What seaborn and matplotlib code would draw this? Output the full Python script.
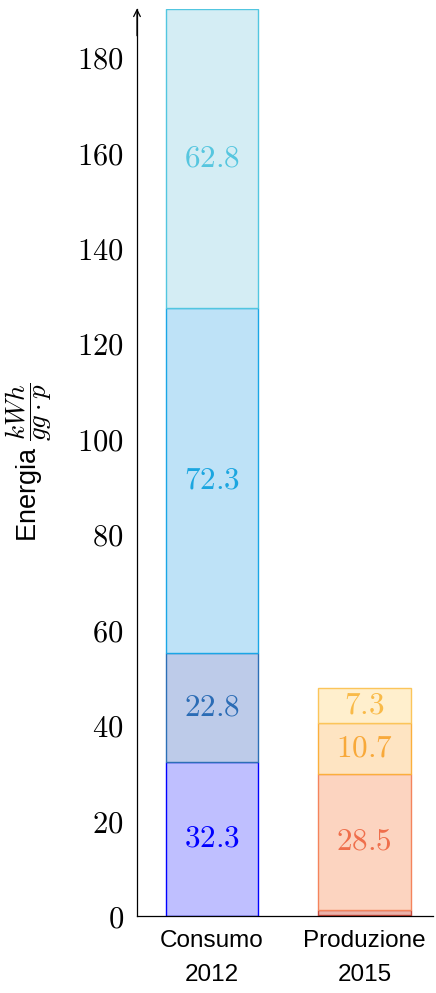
import matplotlib
matplotlib.use("Agg")
import matplotlib.pyplot as plt
import seaborn as sns
import numpy as np
import pandas as pd

# chart data
categories = ["Consumo\n2012", "Produzione\n2015"]
consumo_values = [32.3, 22.8, 72.3, 62.8]
produzione_values = [0.3, 1.0, 28.5, 10.7, 7.3]

consumo_fill = ["#bfbfff", "#bdcbe9", "#bee2f7", "#d4edf4"]
consumo_edge = ["#0000ff", "#2c6fb6", "#1aa6e6", "#52c6e0"]
consumo_text = ["#0000ff", "#2b6cb5", "#1ba6e0", "#56c6df"]

produzione_fill = ["#d9a3d9", "#eab3aa", "#fcd4c0", "#fee4c2", "#ffefcd"]
produzione_edge = ["#9b2f9b", "#c8483a", "#f4845c", "#fbaf3c", "#fbc55a"]
produzione_text = ["#9b2f9b", "#c8483a", "#ef6f4c", "#f8a93a", "#f9ba48"]

sns.set_theme(style="white")
plt.rcParams['font.family'] = ['Liberation Sans', 'DejaVu Sans']
plt.rcParams['mathtext.fontset'] = 'cm'
plt.rcParams['text.color'] = 'black'
plt.rcParams['axes.labelcolor'] = 'black'
plt.rcParams['xtick.color'] = 'black'
plt.rcParams['ytick.color'] = 'black'

fig = plt.figure(figsize=(4.36, 9.93), dpi=100)
ax = fig.add_axes([137 / 436, 1 - 916 / 993, 296 / 436, (916 - 8.5) / 993])

groups = [
    (categories[0], consumo_values, consumo_fill, consumo_edge, consumo_text),
    (categories[1], produzione_values, produzione_fill, produzione_edge, produzione_text),
]

for cat, vals, fills, edges, texts in groups:
    bottom = 0.0
    for v, fc, ec, tc in zip(vals, fills, edges, texts):
        sns.barplot(x=[cat], y=[v], order=categories, bottom=bottom, color=fc,
                    saturation=1, edgecolor=ec, linewidth=1.0, width=0.605, ax=ax)
        if v > 5:
            ax.text(categories.index(cat), bottom + v / 2, f"${v:.1f}$",
                    ha='center', va='center', color=tc, fontsize=22.5)
        bottom += v

ax.set_xlim(-0.493, 1.45)
ax.set_ylim(0, 190.2)

yticks = np.arange(0, 181, 20)
ax.set_yticks(yticks)
ax.set_yticklabels([f"${t}$" for t in yticks], fontsize=22)
ax.tick_params(axis='y', direction='inout', length=9, width=0.8, color='black',
               labelcolor='black', pad=5)
ax.tick_params(axis='x', length=0, pad=10, labelsize=17.5, labelcolor='black')
for lab in ax.get_xticklabels():
    lab.set_linespacing(1.72)

for s in ['top', 'right']:
    ax.spines[s].set_visible(False)
for s in ['left', 'bottom']:
    ax.spines[s].set_color('black')
    ax.spines[s].set_linewidth(0.9)

# arrow head on top of the y axis
ax.annotate('', xy=(0, 1.0), xycoords='axes fraction', xytext=(0, 0.97),
            arrowprops=dict(arrowstyle='->', color='black', lw=0.9,
                            shrinkA=0, shrinkB=0))

ax.set_xlabel('')
ax.set_ylabel(r"Energia $\dfrac{kWh}{gg\cdot p}$", fontsize=19.5, color='black')
ax.yaxis.set_label_coords(-0.28, 0.5)

fig.savefig("out.png", dpi=100)
